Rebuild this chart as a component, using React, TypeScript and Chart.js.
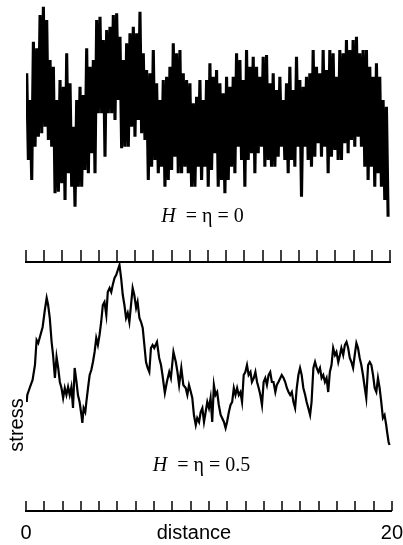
import React, { useEffect, useRef } from "react";
import { Chart, registerables } from "chart.js";

Chart.register(...registerables);

// ---------- DATA ----------
// x axis: distance 0..20, ticks every 1
const X_MIN = 0;
const X_MAX = 20;
const X_STEP = 1;
const X_TICK_LABELS = ["0", "20"]; // only the two ends are labelled

// Top trace (H = eta = 0): regularly sampled along distance, upper and lower excursions
const TOP_START = 0.04;
const TOP_STEP = 0.183;
const TOP_HIGH = [
  18, 10, 27.5, 25.5, 35.5, 38, 34, 22, 20, 10,
  16, 14, 24, 15, 2, 10, 14, 11.5, 25.5, 20,
  22, 34, 35, 28, 31, 32, 35.5, 36, 29, 22,
  27, 30, 32, 30, 36.5, 24, 19, 18, 25, 15,
  10, 16, 17, 20, 27, 24, 25, 18, 16, 15,
  9, 11, 16, 10, 16, 21, 17, 19, 15, 12,
  17, 14, 17, 24, 22, 16, 25, 20, 23, 20,
  17, 23, 23.5, 15, 18, 13, 17, 10, 15, 20,
  13, 23, 16, 14, 17, 18, 25, 20, 18, 25,
  19, 25, 24, 17, 25, 24, 28, 25, 28, 29,
  24, 25, 25, 20, 17, 21, 17, 10, 8,
];
const TOP_LOW = [
  -8, -14, -4, -1, 0, 2, -2, -4, -18, -17.5,
  -15, -20, -12, -16, -22, -16, -16, -11, -12, -6,
  -12, 6, 6, -7, 6, 6, 4, 10, -4.5, -4,
  -4, 2, -1, 4, 0, -2, -14, -10, -8, -12,
  -10, -16, -14, -11, -7, -12, -12, -10, -12, -16,
  -16, -10, -14, -10, -16, -11, -6, -16, -14, -18,
  -14, -10, -12, -4, -8, -16, -8, -6, -12, -6,
  -4, -10, -8, -10, -10, -7, -4, -8, -12, -8,
  -10, -4, -19, -4, -8, -10, -7, -3, -7, -4,
  -12, -7, -5, -8, -8, -3, -6, -2, -4, -1,
  -4, -10, -14, -10, -16, -12, -16, -20, -25,
];
const TOP_Y_MIN = -38.6;
const TOP_Y_MAX = 40;

// Bottom trace (H = eta = 0.5)
const BOT_D = [
  0.04, 0.07, 0.22, 0.36, 0.49, 0.58, 0.67, 0.76, 0.91, 1.03,
  1.13, 1.21, 1.3, 1.4, 1.48, 1.58, 1.67, 1.76, 1.85, 1.94,
  2.03, 2.12, 2.21, 2.3, 2.39, 2.48, 2.57, 2.66, 2.76, 2.84,
  2.93, 3.03, 3.08, 3.15, 3.24, 3.3, 3.39, 3.48, 3.57, 3.66,
  3.75, 3.84, 3.93, 4.02, 4.11, 4.2, 4.29, 4.39, 4.47, 4.57,
  4.66, 4.74, 4.84, 4.93, 5.02, 5.11, 5.2, 5.29, 5.38, 5.47,
  5.56, 5.65, 5.74, 5.83, 5.92, 6.02, 6.1, 6.2, 6.29, 6.38,
  6.47, 6.56, 6.65, 6.74, 6.83, 6.92, 7.01, 7.16, 7.28, 7.38,
  7.46, 7.59, 7.7, 7.83, 7.92, 8.06, 8.19, 8.28, 8.37, 8.49,
  8.6, 8.73, 8.82, 8.91, 9.01, 9.09, 9.18, 9.28, 9.36, 9.46,
  9.55, 9.64, 9.73, 9.82, 9.91, 10.0, 10.09, 10.18, 10.27, 10.36,
  10.45, 10.54, 10.64, 10.72, 10.82, 10.91, 10.99, 11.09, 11.18, 11.27,
  11.36, 11.45, 11.54, 11.63, 11.72, 11.81, 11.9, 11.99, 12.08, 12.17,
  12.27, 12.35, 12.45, 12.54, 12.63, 12.72, 12.81, 12.9, 12.99, 13.08,
  13.17, 13.26, 13.35, 13.44, 13.53, 13.63, 13.71, 13.8, 13.98, 14.08,
  14.17, 14.26, 14.35, 14.44, 14.53, 14.62, 14.71, 14.8, 14.89, 14.98,
  15.07, 15.16, 15.26, 15.34, 15.43, 15.53, 15.61, 15.71, 15.8, 15.89,
  15.98, 16.07, 16.16, 16.25, 16.34, 16.43, 16.52, 16.61, 16.7, 16.79,
  16.89, 16.97, 17.07, 17.16, 17.24, 17.34, 17.43, 17.52, 17.61, 17.7,
  17.79, 17.88, 17.97, 18.06, 18.15, 18.24, 18.33, 18.42, 18.52, 18.6,
  18.7, 18.79, 18.88, 18.97, 19.06, 19.15, 19.24, 19.33, 19.42, 19.51,
  19.6, 19.69, 19.74, 19.82, 19.87,
];
const BOT_S = [
  5.8, 6.5, 7.3, 8.0, 9.5, 12.0, 11.7, 12.3, 13.3, 15.0,
  16.2, 15.5, 14.2, 11.8, 10.5, 8.2, 10.3, 9.2, 7.8, 7.2,
  6.2, 7.2, 6.5, 7.3, 6.5, 7.3, 5.2, 9.2, 7.8, 6.5,
  5.8, 4.5, 3.7, 5.2, 4.8, 5.8, 7.2, 8.5, 9.0, 9.8,
  10.8, 12.2, 11.5, 12.5, 13.8, 15.5, 15.8, 14.5, 16.8, 17.2,
  16.8, 17.5, 18.2, 18.5, 19.0, 19.5, 18.2, 16.5, 15.5, 14.2,
  14.7, 13.8, 15.5, 17.2, 16.5, 15.2, 15.8, 14.2, 13.8, 13.2,
  11.5, 9.8, 9.2, 8.8, 11.2, 11.5, 11.2, 11.8, 10.2, 9.5,
  8.5, 6.7, 7.8, 8.8, 8.2, 10.8, 9.8, 8.8, 7.5, 9.2,
  7.5, 7.2, 6.5, 7.5, 6.8, 6.2, 4.5, 3.5, 4.2, 3.8,
  4.8, 5.2, 3.8, 4.8, 5.8, 5.2, 6.2, 3.8, 7.5, 6.5,
  6.8, 5.5, 4.5, 4.2, 3.8, 3.2, 3.8, 4.8, 5.5, 5.8,
  7.2, 6.5, 7.2, 6.5, 6.8, 5.8, 8.5, 8.8, 9.5, 8.5,
  8.8, 7.8, 8.2, 8.8, 7.8, 7.2, 6.5, 5.5, 7.8, 8.2,
  7.5, 8.5, 8.8, 7.8, 7.8, 6.8, 7.5, 7.8, 8.5, 8.2,
  7.8, 7.2, 6.8, 6.5, 6.8, 5.8, 5.2, 7.2, 8.5, 9.2,
  8.5, 7.2, 6.5, 5.8, 5.2, 4.5, 5.8, 9.2, 9.8, 9.2,
  8.8, 9.2, 8.2, 8.5, 7.8, 8.2, 6.8, 8.8, 9.5, 11.2,
  10.5, 10.8, 9.8, 10.5, 11.2, 10.5, 11.5, 11.8, 11.2, 10.2,
  9.8, 9.2, 10.5, 11.7, 11.2, 10.2, 9.5, 8.5, 7.2, 6.2,
  9.5, 9.8, 9.5, 8.5, 7.2, 6.8, 8.2, 7.2, 5.8, 4.2,
  4.5, 3.5, 2.8, 1.8, 1.5,
];
const BOT_Y_MIN = -5.1;
const BOT_Y_MAX = 19.8;

const TOP_LABEL = { italic: "H", rest: "  = \u03b7 = 0" };
const BOT_LABEL = { italic: "H", rest: "  = \u03b7 = 0.5" };
const X_TITLE = "distance";
const Y_TITLE = "stress";

// ---------- styles ----------
const SERIF = '"Liberation Serif", "Times New Roman", serif';
const SANS = '"Liberation Sans", Arial, Helvetica, sans-serif';

// ---------- plugins ----------
const rulerPlugin = {
  id: "ruler",
  afterDraw(chart: any, _args: any, opts: any) {
    const xs = chart.scales.x;
    const ctx = chart.ctx;
    ctx.save();
    ctx.strokeStyle = "#000";
    ctx.lineWidth = opts.width;
    const y0 = xs.top;
    xs.ticks.forEach((t: any) => {
      const px = Math.round(xs.getPixelForValue(t.value));
      ctx.beginPath();
      ctx.moveTo(px, y0);
      ctx.lineTo(px, y0 - opts.length);
      ctx.stroke();
    });
    ctx.restore();
  },
};

const textPlugin = {
  id: "textLabels",
  afterDraw(chart: any, _args: any, opts: any) {
    const { ctx, chartArea } = chart;
    const xs = chart.scales.x;
    (opts.items || []).forEach((item: any) => {
      ctx.save();
      const fonts = item.parts.map(
        (p: any) => `${p.italic ? "italic " : ""}${item.size}px ${item.family}`
      );
      const widths = item.parts.map((p: any, i: number) => {
        ctx.font = fonts[i];
        return ctx.measureText(p.text).width;
      });
      const total = widths.reduce((a: number, b: number) => a + b, 0);
      const cx =
        item.xValue !== undefined
          ? xs.getPixelForValue(item.xValue)
          : chartArea.left + item.dx;
      const cy = (item.from === "bottom" ? chartArea.bottom : chartArea.top) + item.dy;
      ctx.translate(cx, cy);
      if (item.rotate) ctx.rotate(-Math.PI / 2);
      ctx.fillStyle = "#000";
      ctx.textBaseline = "middle";
      ctx.textAlign = "left";
      let x = -total / 2;
      item.parts.forEach((p: any, i: number) => {
        ctx.font = fonts[i];
        ctx.fillText(p.text, x, 0);
        x += widths[i];
      });
      ctx.restore();
    });
  },
};

function buildTopPoints() {
  const pts: { x: number; y: number }[] = [];
  const n = Math.min(TOP_HIGH.length, TOP_LOW.length);
  for (let i = 0; i < n; i++) {
    const x = TOP_START + i * TOP_STEP;
    pts.push({ x, y: TOP_HIGH[i] });
    pts.push({ x: x + TOP_STEP / 2, y: TOP_LOW[i] });
  }
  return pts;
}

function buildBotPoints() {
  const n = Math.min(BOT_D.length, BOT_S.length);
  const pts: { x: number; y: number }[] = [];
  for (let i = 0; i < n; i++) pts.push({ x: BOT_D[i], y: BOT_S[i] });
  return pts;
}

function xScale(showLabels: boolean) {
  return {
    type: "linear",
    min: X_MIN,
    max: X_MAX,
    ticks: {
      stepSize: X_STEP,
      autoSkip: false,
      maxRotation: 0,
      minRotation: 0,
      display: showLabels,
      padding: 0,
      color: "#000",
      font: { family: SANS, size: 20, lineHeight: 2.2 },
      callback: (v: number) =>
        v === X_MIN ? X_TICK_LABELS[0] : v === X_MAX ? X_TICK_LABELS[1] : "",
    },
    grid: { display: false, drawTicks: false },
    border: { display: true, color: "#000", width: 2 },
  };
}

export default function App() {
  const topRef = useRef<HTMLCanvasElement>(null);
  const botRef = useRef<HTMLCanvasElement>(null);

  useEffect(() => {
    const top = new Chart(topRef.current as HTMLCanvasElement, {
      type: "line",
      data: {
        datasets: [
          {
            data: buildTopPoints(),
            borderColor: "#000",
            borderWidth: 3.1,
            pointRadius: 0,
            tension: 0,
            fill: false,
          },
        ],
      },
      options: {
        animation: false,
        responsive: false,
        layout: { padding: { left: 26, right: 13, top: 0, bottom: 3 } },
        scales: {
          x: xScale(false) as any,
          y: { display: false, min: TOP_Y_MIN, max: TOP_Y_MAX },
        },
        plugins: {
          legend: { display: false },
          tooltip: { enabled: false },
          ruler: { length: 12, width: 1.5 },
          textLabels: {
            items: [
              {
                parts: [
                  { text: TOP_LABEL.italic, italic: true },
                  { text: TOP_LABEL.rest },
                ],
                family: SERIF,
                size: 20,
                xValue: 9.7,
                from: "bottom",
                dy: -45,
              },
            ],
          },
        } as any,
      },
      plugins: [rulerPlugin, textPlugin],
    } as any);

    const bot = new Chart(botRef.current as HTMLCanvasElement, {
      type: "line",
      data: {
        datasets: [
          {
            data: buildBotPoints(),
            borderColor: "#000",
            borderWidth: 2.2,
            pointRadius: 0,
            tension: 0,
            fill: false,
          },
        ],
      },
      options: {
        animation: false,
        responsive: false,
        layout: { padding: { left: 26, right: 10, top: 0, bottom: 0 } },
        scales: {
          x: xScale(true) as any,
          y: { display: false, min: BOT_Y_MIN, max: BOT_Y_MAX },
        },
        plugins: {
          legend: { display: false },
          tooltip: { enabled: false },
          ruler: { length: 10, width: 1.5 },
          textLabels: {
            items: [
              {
                parts: [
                  { text: BOT_LABEL.italic, italic: true },
                  { text: BOT_LABEL.rest },
                ],
                family: SERIF,
                size: 20,
                xValue: 9.59,
                from: "bottom",
                dy: -45,
              },
              {
                parts: [{ text: X_TITLE }],
                family: SANS,
                size: 20,
                xValue: 9.18,
                from: "bottom",
                dy: 22,
              },
              {
                parts: [{ text: Y_TITLE }],
                family: SANS,
                size: 20,
                dx: -9,
                from: "top",
                dy: 163,
                rotate: true,
              },
            ],
          },
        } as any,
      },
      plugins: [rulerPlugin, textPlugin],
    } as any);

    return () => {
      top.destroy();
      bot.destroy();
    };
  }, []);

  return (
    <div
      style={{
        position: "absolute",
        left: 0,
        top: 0,
        width: 403,
        height: 545,
        background: "#fff",
        overflow: "hidden",
      }}
    >
      <canvas
        ref={topRef}
        width={403}
        height={265}
        style={{ position: "absolute", left: 0, top: 0, width: 403, height: 265 }}
      />
      <canvas
        ref={botRef}
        width={403}
        height={293}
        style={{ position: "absolute", left: 0, top: 262, width: 403, height: 293 }}
      />
    </div>
  );
}
